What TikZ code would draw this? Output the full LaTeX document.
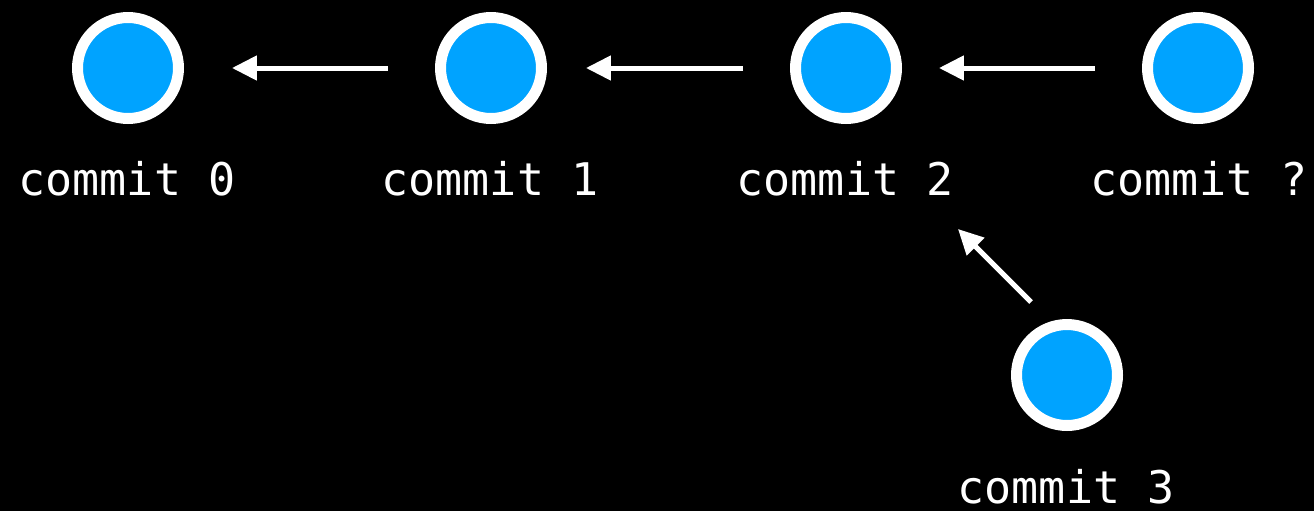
\documentclass[tikz,border=0pt]{standalone}
\usepackage{fontspec}
\setmonofont{DejaVu Sans Mono}
\usetikzlibrary{arrows.meta}
\definecolor{commitblue}{HTML}{00A3FF}
\begin{document}
\begin{tikzpicture}[
x=0.02cm, y=-0.02cm,
commit/.style={circle, draw=white, fill=commitblue, line width=0.22cm, minimum size=2.02cm, inner sep=0pt},
commitlabel/.style={anchor=base, text=white, font=\fontsize{25.6}{30}\ttfamily\selectfont},
parent/.style={draw=white, line width=0.1cm, -{Triangle[length=0.5cm, width=0.48cm]}, shorten <=0.94cm}
]
\fill[black] (0,0) rectangle (1314,511);
\useasboundingbox (0,0) rectangle (1314,511);

\node[commit] (c0) at (128,68) {};
\node[commit] (c1) at (491,68) {};
\node[commit] (c2) at (846,68) {};
\node[commit] (cq) at (1198,68) {};
\node[commit] (c3) at (1067,375) {};

\node[commitlabel] (l0) at (127,195) {commit 0};
\node[commitlabel] (l1) at (490,195) {commit 1};
\node[commitlabel] (l2) at (845,195) {commit 2};
\node[commitlabel] (lq) at (1199,195) {commit ?};
\node[commitlabel] (l3) at (1066,503) {commit 3};

\draw[parent, shorten >=0.96cm] (c1) -- (c0);
\draw[parent, shorten >=0.78cm] (c2) -- (c1);
\draw[parent, shorten >=0.74cm] (cq) -- (c2);

\coordinate (from3) at ([shift={(-36,-73)}]c3.center);
\coordinate (to2) at ([shift={(112,161)}]c2.center);
\draw[parent, shorten <=0pt] (from3) -- (to2);
\end{tikzpicture}
\end{document}
